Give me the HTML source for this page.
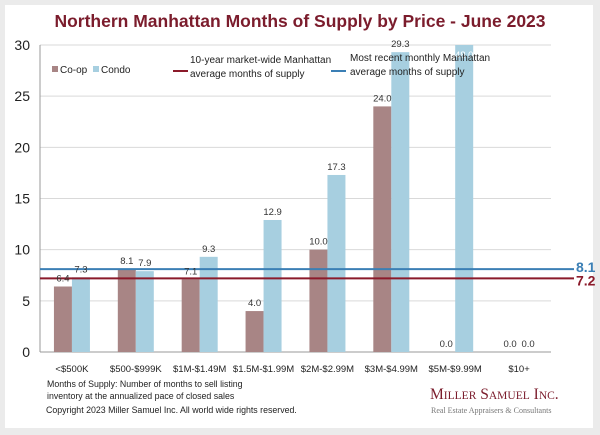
<!DOCTYPE html>
<html><head><meta charset="utf-8">
<style>
html,body{margin:0;padding:0;background:#ebebeb;}
body{width:600px;height:435px;position:relative;overflow:hidden;font-family:"Liberation Sans",Arial,sans-serif;}
#card{position:absolute;left:5px;top:5px;width:588px;height:423px;background:#fff;}
svg{position:absolute;left:0;top:0;}
</style></head>
<body>
<div id="card"></div>
<svg id="chart" width="600" height="435">
<text x="300" y="27" text-anchor="middle" font-size="17.5" font-weight="bold" fill="#7b1c2c">Northern Manhattan Months of Supply by Price - June 2023</text>
<g id="grid"></g>
<g id="bars"></g>
<g id="refs"></g>
<g id="labels"></g>
<g font-size="10" fill="#222">
<rect x="52" y="66" width="6" height="6" fill="#a88585"/>
<text x="60" y="73">Co-op</text>
<rect x="93" y="66" width="6" height="6" fill="#a7cfe0"/>
<text x="101" y="73">Condo</text>
<line x1="173" y1="71" x2="188" y2="71" stroke="#8b1a2a" stroke-width="2"/>
<text x="190" y="63">10-year market-wide Manhattan</text>
<text x="190" y="77">average months of supply</text>
<line x1="331" y1="71" x2="346" y2="71" stroke="#3b7fb5" stroke-width="2"/>
<text x="350" y="61">Most recent monthly Manhattan</text>
<text x="350" y="75">average months of supply</text>
</g>
<g font-size="8.8" fill="#222">
<text x="47" y="387">Months of Supply: Number of months to sell listing</text>
<text x="47" y="399">inventory at the annualized pace of closed sales</text>
<text x="46" y="413">Copyright 2023 Miller Samuel Inc.  All world wide rights reserved.</text>
</g>
<g>
<text x="430" y="399" font-family="Liberation Serif,serif" font-size="15.5" fill="#7b1c2c">M<tspan font-size="11.5">ILLER</tspan> S<tspan font-size="11.5">AMUEL</tspan> I<tspan font-size="11.5">NC</tspan>.</text>
<text x="431" y="413" font-family="Liberation Serif,serif" font-size="8" fill="#777">Real Estate Appraisers &amp; Consultants</text>
</g>
</svg>
<script>
const categories=["<$500K","$500-$999K","$1M-$1.49M","$1.5M-$1.99M","$2M-$2.99M","$3M-$4.99M","$5M-$9.99M","$10+"];
const coop=[6.4,8.1,7.1,4.0,10.0,24.0,0.0,0.0];
const condo=[7.3,7.9,9.3,12.9,17.3,29.3,48.0,0.0];
const refTenYear=7.2;
const refRecent=8.1;
const yTicks=[0,5,10,15,20,25,30];
const X0=40,X1=551,Y0=352,Y1=45,YMAX=30;
const NS="http://www.w3.org/2000/svg";
const y=v=>Y0-(Math.min(v,YMAX)/YMAX)*(Y0-Y1);
const bw=(X1-X0)/categories.length;
const xc=i=>X0+bw*(i+0.5);
function mk(tag,attrs,parent,txt){const e=document.createElementNS(NS,tag);for(const k in attrs)e.setAttribute(k,attrs[k]);if(txt!==undefined)e.textContent=txt;parent.appendChild(e);return e;}
const grid=document.getElementById('grid'),bars=document.getElementById('bars'),refs=document.getElementById('refs'),labels=document.getElementById('labels');
yTicks.forEach(t=>{
  const l=mk('line',{x1:X0,x2:X1,y1:y(t),y2:y(t),stroke:t===0?'#999':'#d9d9d9','stroke-width':1},grid);
  
  
  const tx=mk('text',{x:X0-10,y:y(t)+5,'text-anchor':'end','font-size':14,fill:'#222'},grid,String(t));
  
  
});
mk('line',{x1:X0,x2:X0,y1:Y1,y2:Y0,stroke:'#999'},grid);
const BW=18;
categories.forEach((c,i)=>{
  const cx=xc(i);
  const a=mk('rect',{x:cx-BW,y:y(coop[i]),width:BW,height:Y0-y(coop[i]),fill:'#a88585'},bars);
  
  
  const b=mk('rect',{x:cx,y:y(condo[i]),width:BW,height:Y0-y(condo[i]),fill:'#a7cfe0'},bars);
  
  
  const xl=mk('text',{x:cx,y:Y0+20,'text-anchor':'middle','font-size':9.5,fill:'#222'},labels,c);
  
  
  const l1=mk('text',{x:cx-BW/2,y:y(coop[i])-5,'text-anchor':'middle','font-size':9.5,fill:'#333'},labels,coop[i].toFixed(1));
  
  
  const over=condo[i]>YMAX;
  const l2=mk('text',{x:cx+BW/2,y:over?y(YMAX)+13:y(condo[i])-5,'text-anchor':'middle','font-size':9.5,fill:over?'#ffffff':'#333'},labels,condo[i].toFixed(1));
  
  
});
[[refRecent,'#3b7fb5','recent'],[refTenYear,'#8b1a2a','ten-year']].forEach(([v,col,n])=>{
  const l=mk('line',{x1:X0,x2:574,y1:y(v),y2:y(v),stroke:col,'stroke-width':2},refs);
  
  
  const t=mk('text',{x:576,y:y(v)+(n==='recent'?3:7),'font-size':14,'font-weight':'bold',fill:col},refs,v.toFixed(1));
  
  
});
</script>
</body></html>
